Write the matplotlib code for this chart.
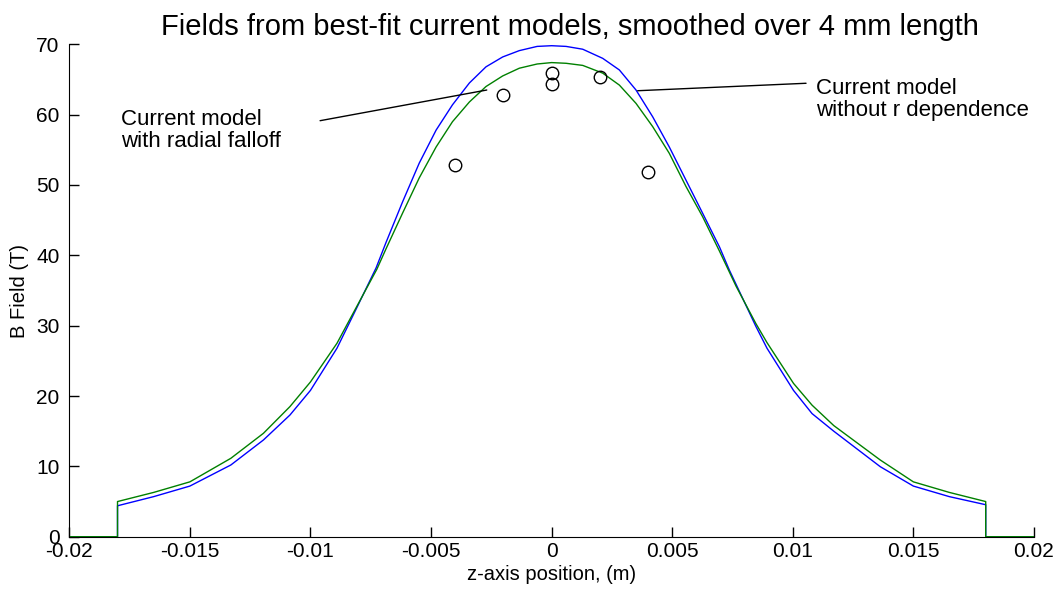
#!/usr/bin/env python3
# -*- coding: utf-8 -*-
"""
plot.py

Fields from best-fit current models, smoothed over 4 mm length
"""

import numpy as np
import matplotlib

matplotlib.use("Agg")
import matplotlib.pyplot as plt

# Model with radial falloff (blue), position in mm and field in T
z_blue = [-20, -18, -18, -16.5, -15, -13.3, -11.95, -10.85, -10, -8.9,
          -8.1, -7.28, -6.87, -6.18, -5.49, -4.79, -4.11, -3.41, -2.72,
          -2.03, -1.34, -0.6, 0, 0.6, 1.29, 2.12, 2.81, 3.5, 4.19, 4.88,
          5.57, 6.26, 6.96, 7.37, 8.47, 8.93, 10.03, 10.8, 11.7, 13.63, 15,
          16.49, 18, 18, 20]
b_blue = [0, 0, 4.4, 5.7, 7.2, 10.2, 13.75, 17.3, 20.8, 26.8,
          32.4, 38.2, 41.8, 47.6, 53.1, 57.8, 61.4, 64.5, 66.8,
          68.2, 69.1, 69.7, 69.8, 69.7, 69.3, 68.0, 66.35, 63.5, 59.7, 55.4,
          50.7, 46.0, 41.2, 37.9, 29.9, 26.8, 20.8, 17.5, 15.0, 9.95, 7.2,
          5.7, 4.55, 0, 0]

# Model without r dependence (green)
z_green = [-20, -18, -18, -16.5, -15, -13.3, -11.95, -10.85, -10, -8.9,
           -8.1, -7.25, -6.87, -6.18, -5.49, -4.79, -4.11, -3.41, -2.72,
           -2.03, -1.34, -0.6, 0, 0.6, 1.29, 2.12, 2.81, 3.5, 4.19, 4.88,
           5.57, 6.26, 6.96, 7.65, 8.47, 8.93, 10.03, 10.8, 11.7, 13.63, 15,
           16.49, 18, 18, 20]
b_green = [0, 0, 5.0, 6.3, 7.8, 11.15, 14.7, 18.5, 22.0, 27.5,
           32.6, 38.0, 40.9, 46.0, 51.0, 55.4, 59.0, 61.8, 64.0,
           65.5, 66.6, 67.2, 67.4, 67.3, 67.0, 65.9, 64.2, 61.6, 58.3, 54.5,
           49.8, 45.5, 40.6, 35.6, 30.3, 27.6, 21.8, 18.7, 15.8, 10.9, 7.8,
           6.3, 5.0, 0, 0]

# Measured points
z_meas = [-4, -2, 0, 0, 2, 4]
b_meas = [52.8, 62.8, 65.9, 64.3, 65.4, 51.9]

xticks = [-0.02, -0.015, -0.01, -0.005, 0, 0.005, 0.01, 0.015, 0.02]
xtick_labels = ["-0.02", "-0.015", "-0.01", "-0.005", "0", "0.005", "0.01",
                "0.015", "0.02"]
yticks = [0, 10, 20, 30, 40, 50, 60, 70]

plt.rcParams["font.family"] = ["Liberation Sans", "DejaVu Sans"]

fig = plt.figure(figsize=(10.61, 5.93), dpi=100)
ax = fig.add_axes([0.0653, 0.0949, 0.9092, 0.8304])

ax.plot(np.array(z_blue) / 1000, b_blue, color="#0000ff", lw=1.0)
ax.plot(np.array(z_green) / 1000, b_green, color="#008000", lw=1.0)
ax.plot(np.array(z_meas) / 1000, b_meas, "o", mfc="none", mec="black",
        ms=9, mew=1.0)

ax.set_xlim(-0.02, 0.02)
ax.set_ylim(0, 70)
ax.set_xticks(xticks)
ax.set_xticklabels(xtick_labels)
ax.set_yticks(yticks)

# Only left and bottom axis lines, ticks pointing inwards
for side in ("top", "right"):
    ax.spines[side].set_visible(False)
ax.tick_params(direction="in", length=7, width=1, labelsize=15)
ax.tick_params(axis="x", pad=4)
ax.tick_params(axis="y", pad=7)

ax.set_xlabel("z-axis position, (m)", fontsize=14.5, labelpad=3)
ax.set_ylabel("B Field (T)", fontsize=14.5, labelpad=5)
ax.set_title("Fields from best-fit current models, smoothed over 4 mm length",
             fontsize=21, pad=7, x=0.519)

# Annotations
ax.text(-0.01786, 57.75, "Current model\nwith radial falloff", fontsize=16,
        ha="left", va="center", linespacing=1.05)
ax.annotate("", xy=(-0.00269, 63.5), xytext=(-0.0096, 59.14),
            arrowprops=dict(arrowstyle="-", color="black", lw=1.0,
                            shrinkA=0, shrinkB=0))
ax.text(0.01097, 62.2, "Current model\nwithout r dependence", fontsize=16,
        ha="left", va="center", linespacing=1.05)
ax.annotate("", xy=(0.00357, 63.4), xytext=(0.01055, 64.46),
            arrowprops=dict(arrowstyle="-", color="black", lw=1.0,
                            shrinkA=0, shrinkB=0))

plt.savefig("out.png", dpi=100)
